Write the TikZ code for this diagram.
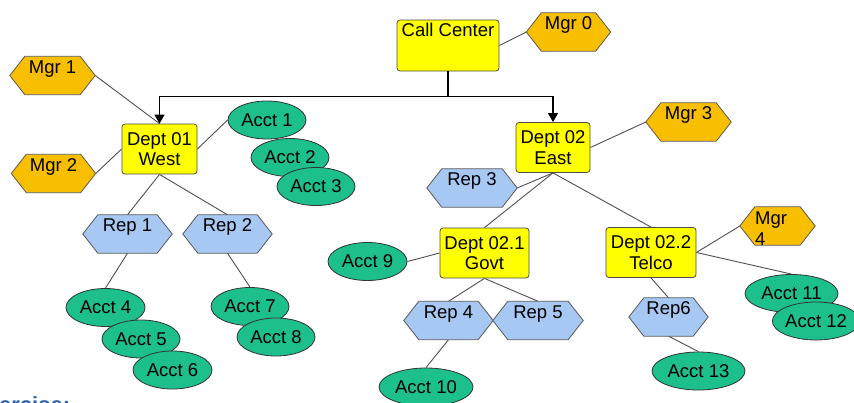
\documentclass[tikz,border=0pt]{standalone}
\usepackage{fontspec}
\setmainfont{Liberation Sans}
\usetikzlibrary{shapes.geometric,arrows.meta}
\pgfdeclarelayer{bg}
\pgfdeclarelayer{canvas}
\pgfsetlayers{canvas,bg,main}
\definecolor{boxyellow}{HTML}{FFFF00}
\definecolor{mgrgold}{HTML}{F8BF00}
\definecolor{repblue}{HTML}{A6C8F2}
\definecolor{acctgreen}{HTML}{1DBF8C}
\definecolor{edgegray}{HTML}{505050}
\definecolor{fragblue}{HTML}{3060B0}
\begin{document}
\begin{tikzpicture}[x=1pt,y=-1pt,
  every node/.style={font=\fontsize{18.5}{20.5}\selectfont},
  deptbox/.style={draw=black!70, fill=boxyellow, rounded corners=3pt, line width=0.8pt,
    align=center, inner sep=0pt, minimum height=50pt, minimum width=#1},
  ccbox/.style={draw=black!70, fill=boxyellow, rounded corners=3pt, line width=0.8pt,
    inner xsep=0pt, inner ysep=0pt, text height=16pt, text depth=35pt, minimum width=#1},
  hexnode/.style={inner xsep=0pt, inner ysep=0pt, text height=16.5pt, text depth=21.5pt, minimum width=#1},
  hexline/.style={draw=black!65, line width=0.8pt},
  acct/.style={ellipse, draw=black!80, fill=acctgreen, line width=0.8pt, inner sep=0pt,
    minimum height=38pt, minimum width=#1},
  link/.style={draw=edgegray, line width=0.9pt},
  feed/.style={draw=black, line width=1.2pt},
  feedarrow/.style={feed, -{Triangle[width=10pt,length=9pt]}}
]
\useasboundingbox (0,0) rectangle (854,402);
\begin{pgfonlayer}{canvas}
\fill[white] (0,0) rectangle (854,402);
\end{pgfonlayer}
\clip (0,0) rectangle (854,402);

% nodes
\node[ccbox=102pt] (cc) at (448,45.5) {Call Center};
\node[hexnode=84pt] (m0) at (568.5,32) {Mgr 0};
\node[hexnode=85pt] (m1) at (52.5,75.5) {Mgr 1};
\node[hexnode=84pt] (m2) at (53.5,173.5) {Mgr 2};
\node[deptbox=75pt] (d1) at (159.5,149) {Dept 01\\West};
\node[deptbox=74pt] (d2) at (553,147.5) {Dept 02\\East};
\node[hexnode=85pt] (m3) at (688.5,122) {Mgr 3};
\node[acct=78pt] (a1) at (267,120) {Acct 1};
\node[acct=78pt] (a2) at (290,157.5) {Acct 2};
\node[acct=78pt] (a3) at (316,186.5) {Acct 3};
\node[hexnode=89pt] (r1) at (127.5,234) {Rep 1};
\node[hexnode=89pt] (r2) at (227.5,234) {Rep 2};
\node[acct=79pt] (a4) at (105.5,307.5) {Acct 4};
\node[acct=78pt] (a5) at (141,339) {Acct 5};
\node[acct=79pt] (a6) at (172.5,370) {Acct 6};
\node[acct=78pt] (a7) at (250,306.5) {Acct 7};
\node[acct=78pt] (a8) at (276,337) {Acct 8};
\node[hexnode=90pt] (r3) at (472,188) {Rep 3};
\node[deptbox=89pt] (d21) at (484.5,253) {Dept 02.1\\Govt};
\node[deptbox=90pt] (d22) at (651,252.5) {Dept 02.2\\Telco};
\node[acct=79pt] (a9) at (367.5,261.5) {Acct 9};
\node[hexnode=89pt] (r4) at (448.5,320.5) {Rep 4};
\node[hexnode=90pt] (r5) at (538,320.5) {Rep 5};
\node[acct=94pt] (a10) at (426,387) {Acct 10};
\node[hexnode=75pt] (m4) at (777.5,226) {};
\node[anchor=north west, inner sep=0pt, align=left] (m4t) at (755,212) {Mgr\\4};
\node[acct=93pt] (a11) at (791.5,293.5) {Acct 11};
\node[acct=86pt] (a12) at (816,321) {Acct 12};
\node[hexnode=79pt] (r6) at (668.5,317) {Rep6};
\node[acct=93pt] (a13) at (698.5,371) {Acct 13};
\node[anchor=base west, inner sep=0pt, text=fragblue, font=\fontsize{22}{24}\selectfont\bfseries] (frag) at (-1,412) {ercise:};

% feed connector with arrows
\draw[feed] (cc.south) -- ++(0,25) coordinate (j);
\draw[feedarrow] (j) -| (d1.north);
\draw[feedarrow] (j) -| (d2.north);

\begin{pgfonlayer}{bg}
\draw[link] (cc.east) -- (m0.west);
\draw[link] (m1.east) -- (d1.north);
\draw[link] (m2.east) -- (d1.west);
\draw[link] (d1.east) -- (a1.west);
\draw[link] (d1.south) -- (r1.north);
\draw[link] (d1.south) -- (r2.north);
\draw[link] (r1.south) -- (a4.north);
\draw[link] (r2.south) -- (a7.north);
\draw[link] (d2.east) -- (m3.west);
\draw[link] (d2.south) -- (r3.east);
\draw[link] (d2.south) -- (d21.north);
\draw[link] (d2.south) -- (d22.north);
\draw[link] (a9.east) -- (d21.west);
\draw[link] (d21.south) -- (r4.north);
\draw[link] (d21.south) -- (r5.north);
\draw[link] (r4.south) -- (a10.north);
\draw[link] (d22.east) -- (m4.west);
\draw[link] (d22.east) -- (a11.north);
\draw[link] (d22.south) -- (r6.north);
\draw[link] (r6.south) -- (a13.north);
\foreach \n in {m0,m1,m2,m3,m4}
  \filldraw[hexline, fill=mgrgold] (\n.west) -- ([xshift=15pt]\n.north west) -- ([xshift=-15pt]\n.north east)
    -- (\n.east) -- ([xshift=-15pt]\n.south east) -- ([xshift=15pt]\n.south west) -- cycle;
\foreach \n in {r1,r2,r3,r4,r5,r6}
  \filldraw[hexline, fill=repblue] (\n.west) -- ([xshift=15pt]\n.north west) -- ([xshift=-15pt]\n.north east)
    -- (\n.east) -- ([xshift=-15pt]\n.south east) -- ([xshift=15pt]\n.south west) -- cycle;
\end{pgfonlayer}
\end{tikzpicture}
\end{document}
